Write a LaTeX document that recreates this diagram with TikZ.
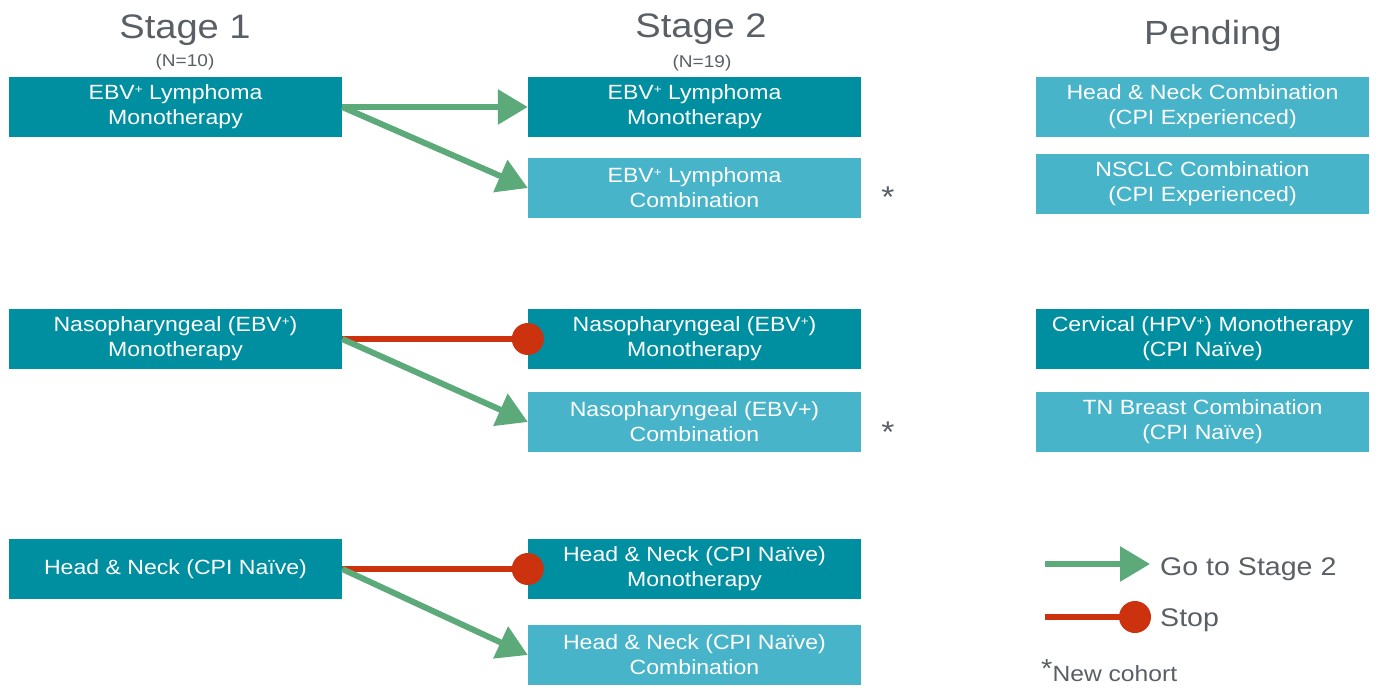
\documentclass[tikz,border=0pt]{standalone}
\usepackage{fontspec}
\setmainfont{Liberation Sans}
\newfontfamily\widefont[FakeStretch=1.12]{Liberation Sans}
\usetikzlibrary{arrows.meta}
\definecolor{dteal}{RGB}{0,143,160}
\definecolor{lteal}{RGB}{72,180,202}
\definecolor{gogreen}{RGB}{92,170,122}
\definecolor{stopred}{RGB}{204,50,14}
\definecolor{txtgray}{RGB}{90,95,102}
\newcommand{\plusup}{\raisebox{6.5pt}{\fontsize{12}{12}\selectfont +}}
\begin{document}
\begin{tikzpicture}[x=1pt,y=-1pt,
  box/.style={rectangle, minimum width=333pt, minimum height=60pt, inner sep=0pt, align=center, text=white, font=\widefont\fontsize{20.6}{25}\selectfont},
  dbox/.style={box, fill=dteal},
  lbox/.style={box, fill=lteal},
  title/.style={text=txtgray, inner sep=0pt, anchor=base, font=\widefont\fontsize{34}{36}\selectfont},
  sub/.style={text=txtgray, inner sep=0pt, anchor=base, font=\widefont\fontsize{17}{19}\selectfont},
  golink/.style={draw=gogreen, line width=6pt, -{Triangle[length=30pt,width=34pt]}},
  stoplink/.style={draw=stopred, line width=6pt},
  stopdot/.style={circle, fill=stopred, minimum size=32pt, inner sep=0pt},
  star/.style={text=txtgray, inner sep=0pt, anchor=base, font=\widefont\fontsize{30}{32}\selectfont},
  legtext/.style={text=txtgray, inner sep=0pt, anchor=base west, font=\widefont\fontsize{25.5}{28}\selectfont}
]
\useasboundingbox (0,0) rectangle (1378,690);
\fill[white] (0,0) rectangle (1378,690);

% titles
\node[title] (t1) at (185,39) {Stage 1};
\node[sub] (n1) at (185,67) {(N=10)};
\node[title] (t2) at (701,38) {Stage 2};
\node[sub] (n2) at (702,68) {(N=19)};
\node[title, font=\widefont\fontsize{33.5}{36}\selectfont] (t3) at (1213,45) {Pending};

% stage 1
\node[dbox] (a1) at (175.5,107) {EBV\plusup{} Lymphoma\\Monotherapy};
\node[dbox] (a2) at (175.5,339) {Nasopharyngeal (EBV\plusup)\\Monotherapy};
\node[dbox] (a3) at (175.5,569) {Head \& Neck (CPI Naïve)};

% stage 2
\node[dbox] (b1) at (694.5,107) {EBV\plusup{} Lymphoma\\Monotherapy};
\node[lbox] (b2) at (694.5,188) {EBV\plusup{} Lymphoma\\Combination};
\node[dbox] (b3) at (694.5,339) {Nasopharyngeal (EBV\plusup)\\Monotherapy};
\node[lbox] (b4) at (694.5,422) {Nasopharyngeal (EBV+)\\Combination};
\node[dbox] (b5) at (694.5,569) {Head \& Neck (CPI Naïve)\\Monotherapy};
\node[lbox] (b6) at (694.5,655) {Head \& Neck (CPI Naïve)\\Combination};

% pending
\node[lbox] (c1) at (1202.5,107) {Head \& Neck Combination\\(CPI Experienced)};
\node[lbox] (c2) at (1202.5,184) {NSCLC Combination\\(CPI Experienced)};
\node[dbox] (c3) at (1202.5,339) {Cervical (HPV\plusup) Monotherapy\\(CPI Naïve)};
\node[lbox] (c4) at (1202.5,422) {TN Breast Combination\\(CPI Naïve)};

% asterisks
\node[star] (s1) at (888,207) {*};
\node[star] (s2) at (888,442) {*};

% connectors
\draw[golink] (a1.east) -- (b1.west);
\draw[golink] (a1.east) -- (b2.west);
\draw[stoplink] (a2.east) -- (b3.west);
\node[stopdot] (d3) at (b3.west) {};
\draw[golink] (a2.east) -- (b4.west);
\draw[stoplink] (a3.east) -- (b5.west);
\node[stopdot] (d5) at (b5.west) {};
\draw[golink] (a3.east) -- (b6.west);

% legend
\coordinate (g1) at (1045,564);
\coordinate (g2) at (1150,564);
\draw[golink] (g1) -- (g2);
\node[legtext] (lg) at (1160,575) {Go to Stage 2};
\coordinate (r1) at (1045,617);
\coordinate (r2) at (1135,617);
\draw[stoplink] (r1) -- (r2);
\node[stopdot] (rd) at (r2) {};
\node[legtext] (ls) at (1160,626) {Stop};
\node[legtext, font=\widefont\fontsize{22}{24}\selectfont] (ln) at (1041,681) {\raisebox{4pt}{\fontsize{26}{26}\selectfont *}New cohort};
\end{tikzpicture}
\end{document}
